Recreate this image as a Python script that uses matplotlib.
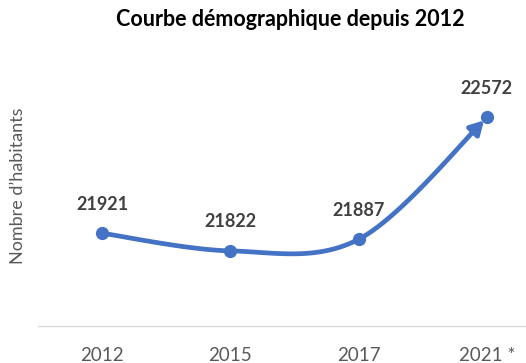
import matplotlib.pyplot as plt
import numpy as np
from matplotlib.patches import FancyArrowPatch

# Population figures
years = ['2012', '2015', '2017', '2021 *']
population = [21921, 21822, 21887, 22572]

BLUE = '#4472C4'
FONT = ['Lato', 'DejaVu Sans']


def smooth_curve(xs, ys, steps=40):
    # Bezier segments with Catmull-Rom style control points (tension 1/6)
    pts = np.column_stack([xs, ys]).astype(float)
    n = len(pts)
    out = [pts[0]]
    t = np.linspace(0, 1, steps)[1:, None]
    for i in range(n - 1):
        p0 = pts[max(i - 1, 0)]
        p1 = pts[i]
        p2 = pts[i + 1]
        p3 = pts[min(i + 2, n - 1)]
        c1 = p1 + (p2 - p0) / 6
        c2 = p2 - (p3 - p1) / 6
        seg = ((1 - t) ** 3) * p1 + 3 * ((1 - t) ** 2) * t * c1 \
            + 3 * (1 - t) * t ** 2 * c2 + t ** 3 * p2
        out.extend(seg)
    out = np.array(out)
    return out[:, 0], out[:, 1]


fig = plt.figure(figsize=(5.26, 3.63), dpi=100)
ax = fig.add_axes([38 / 526, 1 - 326 / 363, 513 / 526, 267 / 363])

x = np.arange(len(years))
cx, cy = smooth_curve(x, population)

# curve, leaving room at the end for the arrow head
cut = len(cx) - 8
ax.plot(cx[:cut + 1], cy[:cut + 1], color=BLUE, lw=3.4,
        solid_capstyle='round', zorder=2)
arrow = FancyArrowPatch((cx[cut], cy[cut]), (cx[-1], cy[-1]),
                        arrowstyle='-|>,head_length=8,head_width=4.5',
                        color=BLUE, lw=3.4, shrinkA=0, shrinkB=3,
                        mutation_scale=1, zorder=2)
ax.add_patch(arrow)
ax.plot(x, population, 'o', color=BLUE, ms=8.5, zorder=3)

for xi, val in zip(x, population):
    ax.annotate(str(val), (xi, val), xytext=(0, 21), textcoords='offset points',
                ha='center', va='center', fontsize=13, fontweight='bold',
                color='#404040', family=FONT)

ax.set_xlim(-0.5, 3.5)
ax.set_ylim(21400, 22900)
ax.set_xticks(x)
ax.set_xticklabels(years, family=FONT, fontsize=13.5, color='#595959')
ax.tick_params(axis='x', length=0, pad=15)
ax.set_yticks([])

for side in ['top', 'right', 'left']:
    ax.spines[side].set_visible(False)
ax.spines['bottom'].set_color('#D9D9D9')
ax.spines['bottom'].set_linewidth(1)

fig.text(18 / 526, 1 - 186 / 363, 'Nombre d’habitants', rotation=90,
         ha='center', va='center', fontsize=13, color='#595959', family=FONT)
fig.text(290 / 526, 1 - 20 / 363, 'Courbe démographique depuis 2012',
         ha='center', va='center', fontsize=15.5, fontweight='bold',
         color='black', family=FONT)

fig.savefig('out.png', dpi=100)
